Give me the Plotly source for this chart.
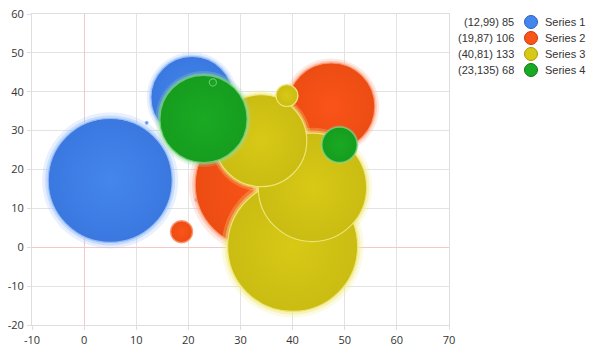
import math
import plotly.graph_objects as go

# ---------------- data ----------------
series_names = ["Series 1", "Series 2", "Series 3", "Series 4"]
legend_labels = ["(12,99) 85", "(19,87) 106", "(40,81) 133", "(23,135) 68"]

s1_x = [5.0, 20.7, 21.7, 12.0]
s1_y = [17.2, 38.5, 12.2, 32.0]
s1_size = [91, 40, 0.1, 0.05]

s2_x = [33.4, 47.4, 18.7]
s2_y = [16.1, 36.2, 4.0]
s2_size = [94, 45, 2.8]

s3_x = [40.0, 43.8, 33.9, 38.9]
s3_y = [0.2, 15.4, 27.4, 39.0]
s3_size = [100, 69.5, 50, 2.8]

s4_x = [22.9, 49.0, 24.7]
s4_y = [33.0, 26.35, 42.4]
s4_size = [45, 7.3, 0.3]

x_ticks = [-10, 0, 10, 20, 30, 40, 50, 60, 70]
y_ticks = [-20, -10, 0, 10, 20, 30, 40, 50, 60]

# ---------------- style ----------------
center_colors = ["#4486ec", "#fa5419", "#d8c916", "#1aa923"]
edge_colors = ["#3a78e0", "#ec4c12", "#cabc12", "#169d1f"]
rim_colors = ["rgba(150,188,245,0.95)", "rgba(250,150,110,0.9)", "rgba(238,230,120,0.95)", "rgba(110,205,115,0.9)"]
glow_colors = ["rgba(160,195,250,{a})", "rgba(252,165,135,{a})", "rgba(242,234,130,{a})", "rgba(150,220,155,{a})"]
legend_line = ["#2a63c0", "#c53a0c", "#a89a0c", "#0f7a17"]

SCALE = 6.5  # px radius per sqrt(size)

W, H = 591, 351
ML, MR, MT, MB = 32, 142, 14, 26
PW, PH = W - ML - MR, H - MT - MB

fig = go.Figure()

all_series = [(s1_x, s1_y, s1_size), (s2_x, s2_y, s2_size),
              (s3_x, s3_y, s3_size), (s4_x, s4_y, s4_size)]

for i, (xs, ys, ss) in enumerate(all_series):
    diam = [2 * SCALE * math.sqrt(v) for v in ss]
    pad = [min(12.0, 0.1 * d) for d in diam]
    # glow
    fig.add_trace(go.Scatter(
        x=xs, y=ys, mode="markers", hoverinfo="skip", showlegend=False,
        marker=dict(size=[d + p for d, p in zip(diam, pad)], opacity=1,
                    color=glow_colors[i].format(a=0.25), line=dict(width=0))))
    fig.add_trace(go.Scatter(
        x=xs, y=ys, mode="markers", hoverinfo="skip", showlegend=False,
        marker=dict(size=[d + p * 0.5 for d, p in zip(diam, pad)], opacity=1,
                    color=glow_colors[i].format(a=0.45), line=dict(width=0))))
    # main bubble
    fig.add_trace(go.Scatter(
        x=xs, y=ys, mode="markers", name=series_names[i], showlegend=False,
        marker=dict(size=diam, color=edge_colors[i], opacity=1,
                    gradient=dict(type="radial", color=center_colors[i]),
                    line=dict(width=1.2, color=rim_colors[i]))))

# ---------------- custom legend ----------------
legend_rows_px = [22, 38, 54, 70]
label_right_px = 516
marker_px = 531
name_left_px = 543

def px_to_paper_x(px):
    return (px - ML) / PW

def px_to_paper_y(py):
    return (H - MB - py) / PH

shapes = []
annotations = []
for i, py in enumerate(legend_rows_px):
    yp = px_to_paper_y(py)
    annotations.append(dict(
        x=px_to_paper_x(label_right_px), y=yp, xref="paper", yref="paper",
        text=legend_labels[i], showarrow=False, xanchor="right", yanchor="middle",
        font=dict(family="Liberation Sans, Arial", size=11, color="#333333")))
    annotations.append(dict(
        x=px_to_paper_x(name_left_px), y=yp, xref="paper", yref="paper",
        text=series_names[i], showarrow=False, xanchor="left", yanchor="middle",
        font=dict(family="Liberation Sans, Arial", size=11, color="#333333")))
    shapes.append(dict(
        type="circle", xref="paper", yref="paper",
        xsizemode="pixel", ysizemode="pixel",
        xanchor=px_to_paper_x(marker_px), yanchor=yp,
        x0=-6.5, x1=6.5, y0=-6.5, y1=6.5,
        fillcolor=center_colors[i], line=dict(color=legend_line[i], width=1)))

axis_common = dict(
    showgrid=True, gridcolor="#e3e3e3", gridwidth=1,
    zeroline=True, zerolinecolor="#f5c8c8", zerolinewidth=1,
    showline=True, linecolor="#dedede", linewidth=1, mirror=True,
    ticks="outside", ticklen=4, tickcolor="#dedede",
    tickfont=dict(family="Open Sans, Noto Sans, Arial", size=11, color="#333333"),
    fixedrange=True, automargin=False, ticklabelstandoff=1,
)

fig.update_layout(
    width=W, height=H,
    margin=dict(l=ML, r=MR, t=MT, b=MB, pad=0),
    paper_bgcolor="white", plot_bgcolor="white",
    xaxis=dict(range=[-10, 70], tickvals=x_ticks,
               ticktext=[str(v) for v in x_ticks], **axis_common),
    yaxis=dict(range=[-20, 60], tickvals=y_ticks,
               ticktext=[str(v) for v in y_ticks], **axis_common),
    shapes=shapes, annotations=annotations,
    showlegend=False,
)

fig.write_html("out.html")
